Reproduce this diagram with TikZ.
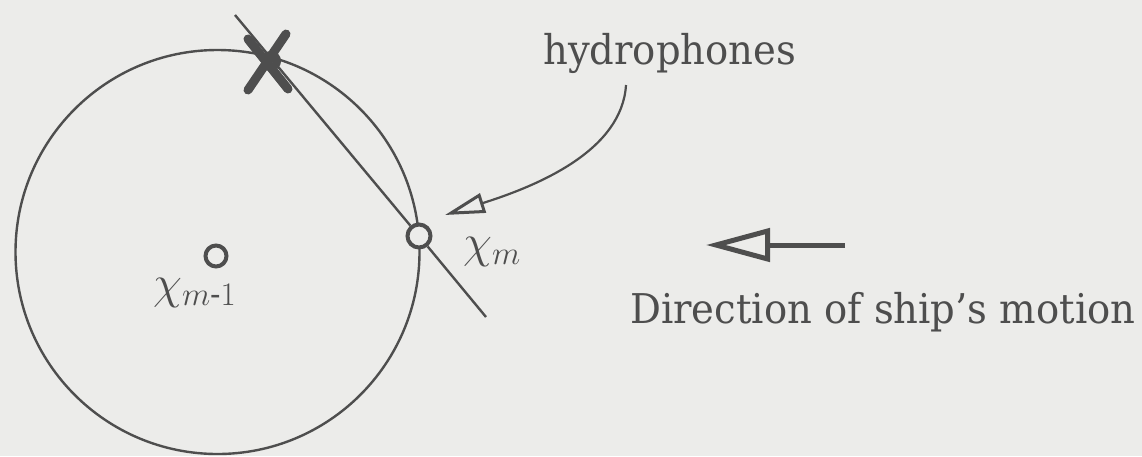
\RequirePackage{fix-cm}
\documentclass[tikz,border=0pt]{standalone}
\usepackage{amsmath}
\usepackage{fontspec}
\setmainfont{DejaVu Serif}[FakeStretch=0.94]
\usetikzlibrary{arrows.meta}
\definecolor{inkc}{RGB}{78,78,78}
\definecolor{bgc}{RGB}{236,236,234}
\tikzset{
  lbl/.style={inner sep=0pt, anchor=base west, text=inkc, font=\fontsize{41}{48}\selectfont},
  mathlbl/.style={inner sep=0pt, anchor=base west, text=inkc, font=\fontsize{47}{54}\selectfont},
  hyd/.style={circle, draw=inkc, fill=bgc, line width=4pt, minimum size=23pt, inner sep=0pt},
  thinline/.style={draw=inkc, line width=2.4pt},
  crossstroke/.style={draw=inkc, line width=9pt, line cap=round},
}
\begin{document}
\begin{tikzpicture}[x=1pt,y=-1pt]
\fill[bgc] (0,0) rectangle (1142,456);
\useasboundingbox (0,0) rectangle (1142,456);
% big circle
\draw[thinline] (217.5,252) circle[radius=202pt];
% hydrophones
\node[hyd] (xm) at (419,236) {};
\node[hyd, minimum size=21pt] (xm1) at (216,256) {};
% line through hydrophones
\coordinate (ltop) at (235,15);
\coordinate (lend) at (486,317);
\draw[thinline] (ltop) -- (xm);
\draw[thinline] (xm) -- (lend);
% crossed hydrophone
\coordinate (xx) at (271,61);
\draw[crossstroke] (248,39) -- (288,89);
\draw[crossstroke] (286,34) -- (248,90);
\draw[draw=inkc, line width=8pt] (xx) circle[radius=6pt];
% labels
\node[mathlbl] (lm) at (463,257) {$\chi_m$};
\node[mathlbl] (lm1) at (153,298) {$\chi_{m\text{-}1}$};
\node[lbl] (hydro) at (543,64) {hydrophones};
\node[lbl] (dir) at (630,323) {Direction of ship's motion};
% hydrophone pointer
\coordinate (hstart) at (626,85);
\coordinate (htip) at (445,215);
\draw[draw=inkc, line width=2.2pt, -{Triangle[open, length=40pt, width=20pt, line width=3pt]}]
  (hstart) .. controls (622,150) and (540,185) .. (htip);
% ship direction arrow
\coordinate (sa) at (845,245);
\coordinate (sb) at (706,245);
\draw[draw=inkc, line width=5pt, -{Triangle[open, length=64pt, width=33pt, line width=5pt]}] (sa) -- (sb);
\end{tikzpicture}
\end{document}
